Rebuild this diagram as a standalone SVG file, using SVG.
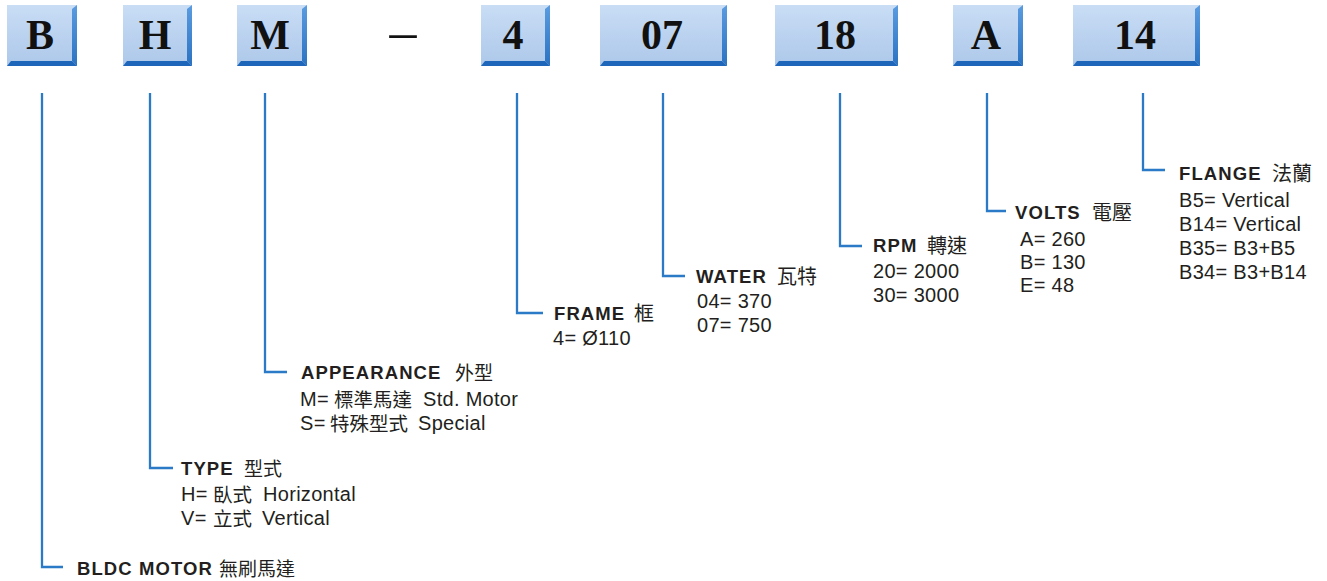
<svg xmlns="http://www.w3.org/2000/svg" width="1327" height="581" viewBox="0 0 1327 581">
<defs>
<linearGradient id="face" x1="0" y1="0" x2="0" y2="1">
<stop offset="0" stop-color="#c9ddf5"/>
<stop offset="1" stop-color="#adc8ea"/>
</linearGradient>
<linearGradient id="side" x1="0" y1="0" x2="0" y2="1">
<stop offset="0" stop-color="#5b9ce0"/>
<stop offset="1" stop-color="#2a72c2"/>
</linearGradient>
<style>
.face{fill:url(#face);}
.rb{fill:url(#side);}
.bb{fill:#1d66ba;}
.code{font-family:"Liberation Serif","Times New Roman",serif;font-weight:bold;font-size:42px;fill:#111;text-anchor:middle;}
.conn{fill:none;stroke:#2b7ac8;stroke-width:2.3;}
.h{font-family:"Liberation Sans",Arial,sans-serif;font-weight:bold;font-size:18.5px;fill:#231f20;letter-spacing:1.1px;}
.hc{font-family:"Liberation Sans","Noto Sans CJK TC","Noto Sans CJK SC",sans-serif;font-size:20px;fill:#231f20;}
.t{font-family:"Liberation Sans",Arial,sans-serif;font-size:20px;fill:#231f20;letter-spacing:0.3px;}
.tc{font-family:"Liberation Sans","Noto Sans CJK TC","Noto Sans CJK SC",sans-serif;font-size:19.5px;fill:#231f20;}
</style>
</defs>
<rect width="1327" height="581" fill="#ffffff"/>

<g id="box-B">
<rect class="face" x="7" y="5" width="70" height="61"/>
<polygon class="rb" points="77,5 77,66 72,61 72,9"/>
<polygon class="bb" points="7,66 77,66 72,61 11,61"/>
<text class="code" x="40" y="49">B</text>
</g>
<g id="box-H">
<rect class="face" x="123" y="5" width="69" height="61"/>
<polygon class="rb" points="192,5 192,66 187,61 187,9"/>
<polygon class="bb" points="123,66 192,66 187,61 127,61"/>
<text class="code" x="155" y="49">H</text>
</g>
<g id="box-M">
<rect class="face" x="237" y="5" width="70" height="61"/>
<polygon class="rb" points="307,5 307,66 302,61 302,9"/>
<polygon class="bb" points="237,66 307,66 302,61 241,61"/>
<text class="code" x="270" y="49">M</text>
</g>
<g id="dash">
<text x="403" y="49" style="font-family:'Liberation Serif','Times New Roman',serif;font-size:54px;fill:#111;text-anchor:middle;">–</text>
</g>
<g id="box-4">
<rect class="face" x="481" y="5" width="69" height="61"/>
<polygon class="rb" points="550,5 550,66 545,61 545,9"/>
<polygon class="bb" points="481,66 550,66 545,61 485,61"/>
<text class="code" x="513" y="49">4</text>
</g>
<g id="box-07">
<rect class="face" x="600" y="5" width="127" height="61"/>
<polygon class="rb" points="727,5 727,66 722,61 722,9"/>
<polygon class="bb" points="600,66 727,66 722,61 604,61"/>
<text class="code" x="662" y="49">07</text>
</g>
<g id="box-18">
<rect class="face" x="775" y="5" width="123" height="61"/>
<polygon class="rb" points="898,5 898,66 893,61 893,9"/>
<polygon class="bb" points="775,66 898,66 893,61 779,61"/>
<text class="code" x="835" y="49">18</text>
</g>
<g id="box-A">
<rect class="face" x="953" y="5" width="70" height="61"/>
<polygon class="rb" points="1023,5 1023,66 1018,61 1018,9"/>
<polygon class="bb" points="953,66 1023,66 1018,61 957,61"/>
<text class="code" x="986" y="49">A</text>
</g>
<g id="box-14">
<rect class="face" x="1073" y="5" width="127" height="61"/>
<polygon class="rb" points="1200,5 1200,66 1195,61 1195,9"/>
<polygon class="bb" points="1073,66 1200,66 1195,61 1077,61"/>
<text class="code" x="1135" y="49">14</text>
</g>

<g id="connectors">
<polyline class="conn" points="42,93 42,567 63,567"/>
<polyline class="conn" points="150,93 150,468 173,468"/>
<polyline class="conn" points="265,93 265,372 287,372"/>
<polyline class="conn" points="517,93 517,313 543,313"/>
<polyline class="conn" points="663,93 663,276 685,276"/>
<polyline class="conn" points="840,93 840,246 862,246"/>
<polyline class="conn" points="987,93 987,211 1006,211"/>
<polyline class="conn" points="1143,93 1143,170 1165,170"/>
</g>

<g id="label-bldc">
<text class="h" x="77" y="575">BLDC MOTOR</text>
<text class="hc" x="219" y="576" style="font-size:19px">無刷馬達</text>
</g>
<g id="label-type">
<text class="h" x="181" y="475">TYPE</text>
<text class="hc" x="244" y="476" style="font-size:19px">型式</text>
<text class="t" x="181" y="501">H=</text>
<text class="tc" x="213" y="502">臥式</text>
<text class="t" x="263" y="501">Horizontal</text>
<text class="t" x="181" y="525">V=</text>
<text class="tc" x="213" y="526">立式</text>
<text class="t" x="262" y="525">Vertical</text>
</g>
<g id="label-appearance">
<text class="h" x="301" y="379">APPEARANCE</text>
<text class="hc" x="455" y="380" style="font-size:19px">外型</text>
<text class="t" x="300" y="406">M=</text>
<text class="tc" x="334" y="407">標準馬達</text>
<text class="t" x="423" y="406">Std. Motor</text>
<text class="t" x="300" y="430">S=</text>
<text class="tc" x="330" y="431">特殊型式</text>
<text class="t" x="418" y="430">Special</text>
</g>
<g id="label-frame">
<text class="h" x="554" y="320">FRAME</text>
<text class="hc" x="634" y="321">框</text>
<text class="t" x="553" y="345">4= Ø110</text>
</g>
<g id="label-water">
<text class="h" x="696" y="283">WATER</text>
<text class="hc" x="777" y="284">瓦特</text>
<text class="t" x="697" y="308">04= 370</text>
<text class="t" x="697" y="332">07= 750</text>
</g>
<g id="label-rpm">
<text class="h" x="873" y="252">RPM</text>
<text class="hc" x="927" y="253">轉速</text>
<text class="t" x="873" y="278">20= 2000</text>
<text class="t" x="873" y="302">30= 3000</text>
</g>
<g id="label-volts">
<text class="h" x="1015" y="219">VOLTS</text>
<text class="hc" x="1092" y="220">電壓</text>
<text class="t" x="1020" y="246">A= 260</text>
<text class="t" x="1020" y="269">B= 130</text>
<text class="t" x="1020" y="292">E= 48</text>
</g>
<g id="label-flange">
<text class="h" x="1179" y="180">FLANGE</text>
<text class="hc" x="1272" y="181">法蘭</text>
<text class="t" x="1179" y="207">B5= Vertical</text>
<text class="t" x="1179" y="231">B14= Vertical</text>
<text class="t" x="1179" y="255">B35= B3+B5</text>
<text class="t" x="1179" y="279">B34= B3+B14</text>
</g>
</svg>
